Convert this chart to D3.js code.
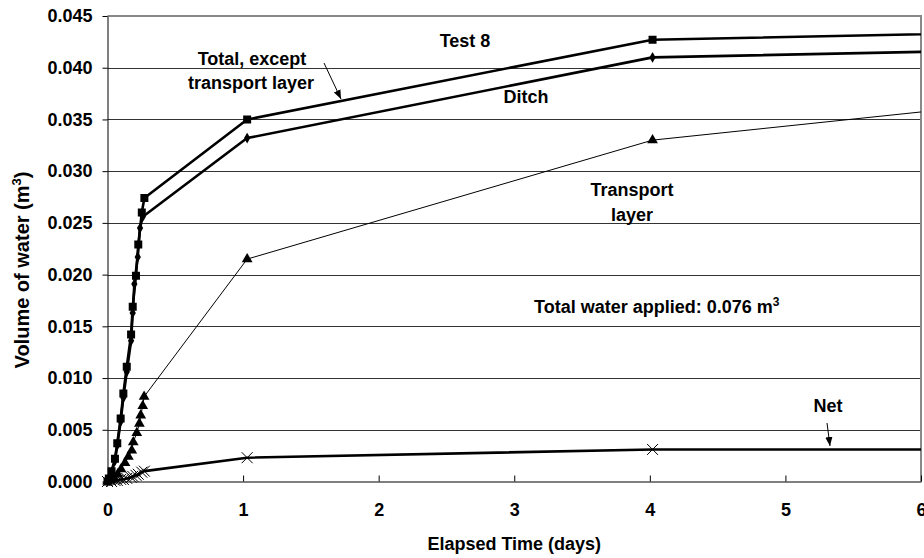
<!DOCTYPE html>
<html>
<head>
<meta charset="utf-8">
<script src="https://cdn.jsdelivr.net/npm/d3@7"></script>
<style>
  body { margin: 0; background: #fff; }
  text { font-family: "Liberation Sans", Arial, sans-serif; font-weight: bold; }
</style>
</head>
<body>
<div id="chart"></div>
<script>
// data (days, m3)
const totalDays = [0, 0.01, 0.03, 0.055, 0.072, 0.097, 0.117, 0.142, 0.174, 0.186, 0.210, 0.227, 0.253, 0.272, 1.03, 4.02, 7.0];
const totalVol  = [0, 0.0003, 0.001, 0.0022, 0.0037, 0.0061, 0.0085, 0.0111, 0.0142, 0.0169, 0.0199, 0.0229, 0.0260, 0.0274, 0.0350, 0.0427, 0.0435];

const ditchDays = [0, 0.01, 0.03, 0.055, 0.072, 0.097, 0.117, 0.142, 0.174, 0.186, 0.198, 0.223, 0.24, 0.26, 1.03, 4.02, 7.0];
const ditchVol  = [0, 0.0002, 0.0009, 0.0020, 0.0035, 0.0058, 0.0081, 0.0106, 0.0136, 0.0163, 0.0191, 0.0217, 0.0245, 0.0256, 0.0332, 0.0410, 0.0418];

const transDays = [0, 0.025, 0.05, 0.075, 0.10, 0.129, 0.154, 0.179, 0.19, 0.216, 0.235, 0.245, 0.26, 0.27, 1.03, 4.02, 7.0];
const transVol  = [0, 0.0001, 0.0003, 0.0007, 0.0012, 0.0018, 0.0024, 0.0030, 0.0038, 0.0047, 0.0056, 0.0064, 0.0073, 0.0082, 0.0215, 0.0330, 0.0371];

const netDays = [0, 0.03, 0.055, 0.072, 0.097, 0.117, 0.142, 0.174, 0.186, 0.210, 0.227, 0.253, 0.272, 1.03, 4.02, 7.0];
const netVol  = [0, 0.0000, 0.0001, 0.0001, 0.0002, 0.0002, 0.0003, 0.0004, 0.0005, 0.0006, 0.0007, 0.0009, 0.0010, 0.0023, 0.0031, 0.0031];

const xTicks = [0, 1, 2, 3, 4, 5, 6];
const yTicks = [0, 0.005, 0.01, 0.015, 0.02, 0.025, 0.03, 0.035, 0.04, 0.045];

const w = 924;
const h = 558;
const mLeft = 107.5, mRight = 921, mTop = 16, mBottom = 481.5;
const fs = 18;

const svg = d3.select("#chart").append("svg").attr("width", w).attr("height", h);

const x = d3.scaleLinear().domain([0, 6]).range([mLeft, mRight]);
const y = d3.scaleLinear().domain([0, 0.045]).range([mBottom, mTop]);

const defs = svg.append("defs");
defs.append("clipPath").attr("id", "plot")
    .append("rect").attr("x", mLeft - 6).attr("y", mTop - 6)
    .attr("width", mRight - mLeft + 6).attr("height", mBottom - mTop + 12);

// gridlines
svg.append("g").selectAll("line").data(yTicks.slice(1, -1)).join("line")
    .attr("x1", mLeft).attr("x2", mRight)
    .attr("y1", d => Math.round(y(d)) + 0.5).attr("y2", d => Math.round(y(d)) + 0.5)
    .attr("stroke", "#333").attr("stroke-width", 1);

// frame top / right
svg.append("line").attr("x1", mLeft).attr("x2", mRight + 1).attr("y1", mTop).attr("y2", mTop)
    .attr("stroke", "#888").attr("stroke-width", 2);
svg.append("line").attr("x1", mRight).attr("x2", mRight).attr("y1", mTop).attr("y2", mBottom)
    .attr("stroke", "#888").attr("stroke-width", 2);

// axes
const yAxis = d3.axisLeft(y).tickValues(yTicks).tickFormat(d3.format(".3f")).tickSize(5).tickSizeOuter(0);
const gy = svg.append("g").attr("transform", "translate(" + mLeft + ",0)").call(yAxis);
gy.selectAll("text").attr("font-size", fs).attr("fill", "#000").attr("x", -15);
gy.selectAll("line").attr("stroke", "#000");
gy.select(".domain").attr("stroke", "#000");

const xAxis = d3.axisBottom(x).tickValues(xTicks).tickFormat(d3.format("d")).tickSize(-6).tickSizeOuter(0);
const gx = svg.append("g").attr("transform", "translate(0," + mBottom + ")").call(xAxis);
gx.selectAll("text").attr("font-size", fs).attr("fill", "#000").attr("dy", "0.71em").attr("y", 22);
gx.selectAll("line").attr("stroke", "#000");
gx.select(".domain").attr("stroke", "#000");

// axis titles
svg.append("text").attr("x", (mLeft + mRight) / 2).attr("y", 550)
    .attr("text-anchor", "middle").attr("font-size", fs).text("Elapsed Time (days)");

const yl = svg.append("text").attr("transform", "translate(29,270) rotate(-90)")
    .attr("text-anchor", "middle").attr("font-size", 20);
yl.append("tspan").text("Volume of water (m");
yl.append("tspan").attr("dy", -8).attr("font-size", 13).text("3");
yl.append("tspan").attr("dy", 8).text(")");

// series
const plot = svg.append("g").attr("clip-path", "url(#plot)");
const line = d3.line().x(d => x(d[0])).y(d => y(d[1]));

const series = [
    { days: totalDays, vol: totalVol, width: 2.6, shape: "square" },
    { days: ditchDays, vol: ditchVol, width: 2.6, shape: "diamond" },
    { days: transDays, vol: transVol, width: 1, shape: "triangle" },
    { days: netDays, vol: netVol, width: 2.6, shape: "cross" }
];

const symbols = {
    square: d3.symbol(d3.symbolSquare, 64)(),
    diamond: d3.symbol(d3.symbolDiamond, 34)(),
    triangle: d3.symbol(d3.symbolTriangle, 50)(),
    cross: d3.symbol(d3.symbolX, 80)()
};

series.forEach(s => {
    const pts = s.days.map((d, i) => [d, s.vol[i]]);
    plot.append("path").datum(pts)
        .attr("fill", "none").attr("stroke", "#000")
        .attr("stroke-width", s.width).attr("stroke-linejoin", "round")
        .attr("d", line);
    plot.append("g").selectAll("path").data(pts).join("path")
        .attr("transform", d => "translate(" + x(d[0]) + "," + y(d[1]) + ")")
        .attr("d", symbols[s.shape])
        .attr("fill", s.shape === "cross" ? "none" : "#000")
        .attr("stroke", s.shape === "cross" ? "#000" : "none")
        .attr("stroke-width", 1);
});

// annotations
defs.append("marker").attr("id", "arrow")
    .attr("viewBox", "0 0 10 10").attr("refX", 10).attr("refY", 5)
    .attr("markerWidth", 9).attr("markerHeight", 9).attr("markerUnits", "userSpaceOnUse")
    .attr("orient", "auto")
    .append("path").attr("d", "M0,1 L10,5 L0,9 Z").attr("fill", "#000");

function label(tx, ty, str) {
    return svg.append("text").attr("x", tx).attr("y", ty).attr("text-anchor", "middle")
        .attr("font-size", fs).attr("dy", "0.35em").text(str);
}

label(465, 41, "Test 8");
label(252, 59, "Total, except");
label(251, 83, "transport layer");
svg.append("line").attr("x1", 324).attr("y1", 63).attr("x2", 341).attr("y2", 99)
    .attr("stroke", "#000").attr("stroke-width", 1).attr("marker-end", "url(#arrow)");
label(526, 97, "Ditch");
label(632, 190, "Transport");
label(632, 215, "layer");

const tw = svg.append("text").attr("x", 534).attr("y", 307).attr("dy", "0.35em").attr("font-size", fs);
tw.append("tspan").text("Total water applied: 0.076 m");
tw.append("tspan").attr("dy", -7).attr("font-size", 12).text("3");

label(828, 406, "Net");
svg.append("line").attr("x1", 827).attr("y1", 423).attr("x2", 830).attr("y2", 446)
    .attr("stroke", "#000").attr("stroke-width", 1).attr("marker-end", "url(#arrow)");
</script>
</body>
</html>
